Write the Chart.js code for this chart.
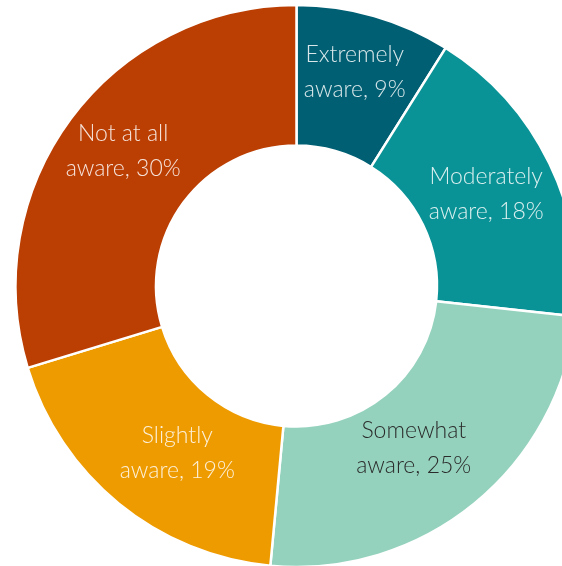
<!DOCTYPE html>
<html><head><meta charset="utf-8">
<script src="https://cdn.jsdelivr.net/npm/chart.js@4/dist/chart.umd.min.js"></script>
<style>
html,body{margin:0;padding:0;background:#fff;overflow:hidden;}
#wrap{width:562px;height:566px;overflow:hidden;position:relative;}
#box{position:absolute;left:0;top:0;width:593px;height:572px;}
</style></head><body>
<div id="wrap"><div id="box"><canvas id="c"></canvas></div></div>
<script>
const categories = [["Extremely","aware, 9%"],["Moderately","aware, 18%"],["Somewhat","aware, 25%"],["Slightly","aware, 19%"],["Not at all","aware, 30%"]];
const values = [9, 18, 25, 19, 30];
const colors = ["#005f73", "#0a9396", "#94d2bd", "#ee9b00", "#bb3e03"];
const labelColors = ["rgba(255,255,255,0.85)","rgba(255,255,255,0.85)","#2b2b2b","rgba(255,255,255,0.85)","rgba(255,255,255,0.85)"];

const labelPlugin = {
  id: 'segLabels',
  afterDatasetsDraw(chart, args, opts) {
    const ctx = chart.ctx;
    const meta = chart.getDatasetMeta(0);
    const nudges = opts.nudges || [];
    ctx.save();
    ctx.font = '300 23px Lato';
    ctx.textAlign = 'center';
    ctx.textBaseline = 'middle';
    meta.data.forEach((arc, i) => {
      const p = arc.tooltipPosition();
      const n = nudges[i] || [0, 0];
      const lines = categories[i];
      const lh = 35;
      ctx.fillStyle = labelColors[i];
      lines.forEach((t, j) => {
        ctx.fillText(t, p.x + n[0], p.y + n[1] + (j - (lines.length - 1) / 2) * lh);
      });
    });
    ctx.restore();
  }
};

new Chart(document.getElementById('c'), {
  type: 'doughnut',
  data: {
    labels: categories.map(c => c.join(' ')),
    datasets: [{
      data: values,
      backgroundColor: colors,
      borderColor: '#ffffff',
      borderWidth: 2.5
    }]
  },
  options: {
    responsive: true,
    maintainAspectRatio: false,
    animation: false,
    cutout: '50%',
    layout: { padding: 3.75 },
    plugins: {
      legend: { display: false },
      tooltip: { enabled: false },
      segLabels: { nudges: [[0,-11],[0,0],[-16,-1],[14,4],[-4,-9]] }
    }
  },
  plugins: [labelPlugin]
});
</script>
</body></html>
